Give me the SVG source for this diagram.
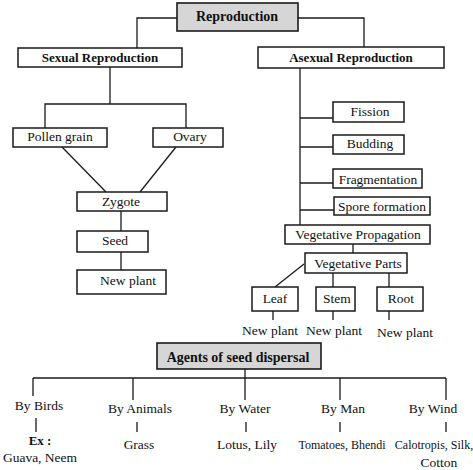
<svg xmlns="http://www.w3.org/2000/svg" width="473" height="470" viewBox="0 0 473 470">
<style>
.b{fill:#fff;stroke:#1a1a1a;stroke-width:1.5}
.g{fill:#d6d6d6;stroke:#1a1a1a;stroke-width:1.6}
text{fill:#111;text-anchor:middle}
.t{font-size:13.5px}
.ts{font-size:12px}
.tb{font-size:13px;font-weight:bold}
.th{font-size:14px;font-weight:bold}
.c{fill:none;stroke:#1a1a1a;stroke-width:1.3}
</style>
<rect width="473" height="470" fill="#fff"/>
<g id="connectors" class="c">
<polyline points="177,18 137,18 137,48"/>
<polyline points="298,18 364,18 364,47"/>
<line x1="110" y1="67" x2="110" y2="104"/>
<polyline points="45,128 45,104 186,104 186,128"/>
<line x1="62" y1="147" x2="106" y2="192"/>
<line x1="176" y1="147" x2="140" y2="192"/>
<line x1="121" y1="211" x2="121" y2="231"/>
<line x1="121" y1="252" x2="121" y2="270"/>
<line x1="300" y1="68" x2="300" y2="225"/>
<line x1="300" y1="118" x2="333" y2="118"/>
<line x1="300" y1="147" x2="333" y2="147"/>
<line x1="300" y1="183" x2="333" y2="183"/>
<line x1="300" y1="210" x2="334" y2="210"/>
<line x1="353" y1="244" x2="353" y2="253"/>
<line x1="304" y1="264" x2="275" y2="287"/>
<line x1="333" y1="273" x2="333" y2="287"/>
<line x1="389" y1="273" x2="389" y2="287"/>
<line x1="273" y1="311" x2="273" y2="320"/>
<line x1="333" y1="311" x2="333" y2="320"/>
<line x1="389" y1="311" x2="389" y2="320"/>
<line x1="245" y1="369" x2="245" y2="378"/>
<line x1="33" y1="378" x2="446" y2="378"/>
<line x1="33" y1="378" x2="33" y2="396"/>
<line x1="133" y1="378" x2="133" y2="400"/>
<line x1="245" y1="378" x2="245" y2="400"/>
<line x1="340" y1="378" x2="340" y2="400"/>
<line x1="446" y1="378" x2="446" y2="400"/>
<line x1="36" y1="418" x2="36" y2="432"/>
<line x1="137" y1="422" x2="137" y2="432"/>
<line x1="246" y1="422" x2="246" y2="432"/>
<line x1="340" y1="422" x2="340" y2="432"/>
<line x1="446" y1="422" x2="446" y2="432"/>
</g>
<g id="reproduction"><rect class="g" x="177" y="3" width="121" height="28"/><text class="th" style="font-family:'Liberation Serif',serif" x="237" y="21">Reproduction</text></g>
<g id="sexual"><rect class="b" x="18" y="48" width="164" height="19"/><text class="tb" style="font-family:'Liberation Serif',serif" x="100" y="62">Sexual Reproduction</text></g>
<g id="asexual"><rect class="b" x="258" y="47" width="186" height="21"/><text class="tb" style="font-family:'Liberation Serif',serif" x="351" y="62">Asexual Reproduction</text></g>
<g id="pollen"><rect class="b" x="13" y="128" width="94" height="19"/><text class="t" style="font-family:'Liberation Serif',serif" x="60" y="141">Pollen grain</text></g>
<g id="ovary"><rect class="b" x="153" y="128" width="70" height="19"/><text class="t" style="font-family:'Liberation Serif',serif" x="190" y="141">Ovary</text></g>
<g id="zygote"><rect class="b" x="77" y="192" width="90" height="19"/><text class="t" style="font-family:'Liberation Serif',serif" x="121" y="206">Zygote</text></g>
<g id="seed"><rect class="b" x="77" y="231" width="71" height="21"/><text class="t" style="font-family:'Liberation Serif',serif" x="115" y="245">Seed</text></g>
<g id="newplant1"><rect class="b" x="77" y="270" width="89" height="24"/><text class="t" style="font-family:'Liberation Serif',serif" x="128" y="285">New plant</text></g>
<g id="fission"><rect class="b" x="333" y="102" width="71" height="20"/><text class="t" style="font-family:'Liberation Serif',serif" x="370" y="116">Fission</text></g>
<g id="budding"><rect class="b" x="333" y="135" width="71" height="19"/><text class="t" style="font-family:'Liberation Serif',serif" x="370" y="148">Budding</text></g>
<g id="fragmentation"><rect class="b" x="333" y="169" width="89" height="19"/><text class="t" style="font-family:'Liberation Serif',serif" x="378" y="184">Fragmentation</text></g>
<g id="spore"><rect class="b" x="334" y="197" width="96" height="18"/><text class="t" style="font-family:'Liberation Serif',serif" x="382" y="211">Spore formation</text></g>
<g id="vegprop"><rect class="b" x="285" y="225" width="145" height="19"/><text class="t" style="font-family:'Liberation Serif',serif" x="358" y="239">Vegetative Propagation</text></g>
<g id="vegparts"><rect class="b" x="305" y="253" width="102" height="20"/><text class="t" style="font-family:'Liberation Serif',serif" x="358" y="268">Vegetative Parts</text></g>
<g id="leaf"><rect class="b" x="252" y="287" width="46" height="24"/><text class="t" style="font-family:'Liberation Serif',serif" x="275" y="303">Leaf</text></g>
<g id="stem"><rect class="b" x="316" y="287" width="39" height="24"/><text class="t" style="font-family:'Liberation Serif',serif" x="337" y="303">Stem</text></g>
<g id="root"><rect class="b" x="377" y="287" width="46" height="24"/><text class="t" style="font-family:'Liberation Serif',serif" x="401" y="303">Root</text></g>
<g id="np-leaf"><text class="t" style="font-family:'Liberation Serif',serif" x="270" y="335">New plant</text></g>
<g id="np-stem"><text class="t" style="font-family:'Liberation Serif',serif" x="334" y="335">New plant</text></g>
<g id="np-root"><text class="t" style="font-family:'Liberation Serif',serif" x="405" y="337">New plant</text></g>
<g id="agents"><rect class="g" x="157" y="343" width="164" height="26"/><text class="th" style="font-family:'Liberation Serif',serif" x="238" y="362">Agents of seed dispersal</text></g>
<g id="birds"><text class="t" style="font-family:'Liberation Serif',serif" x="39" y="410">By Birds</text><text class="tb" style="font-family:'Liberation Serif',serif" x="40" y="445">Ex :</text><text class="t" style="font-family:'Liberation Serif',serif" x="40" y="462">Guava, Neem</text></g>
<g id="animals"><text class="t" style="font-family:'Liberation Serif',serif" x="140" y="413">By Animals</text><text class="t" style="font-family:'Liberation Serif',serif" x="139" y="449">Grass</text></g>
<g id="water"><text class="t" style="font-family:'Liberation Serif',serif" x="245" y="413">By Water</text><text class="t" style="font-family:'Liberation Serif',serif" x="247" y="449">Lotus, Lily</text></g>
<g id="man"><text class="t" style="font-family:'Liberation Serif',serif" x="343" y="413">By Man</text><text class="ts" style="font-family:'Liberation Serif',serif" x="342" y="449">Tomatoes, Bhendi</text></g>
<g id="wind"><text class="t" style="font-family:'Liberation Serif',serif" x="433" y="413">By Wind</text><text class="ts" style="font-family:'Liberation Serif',serif" x="434" y="449">Calotropis, Silk,</text><text class="t" style="font-family:'Liberation Serif',serif" x="439" y="467">Cotton</text></g>
</svg>
